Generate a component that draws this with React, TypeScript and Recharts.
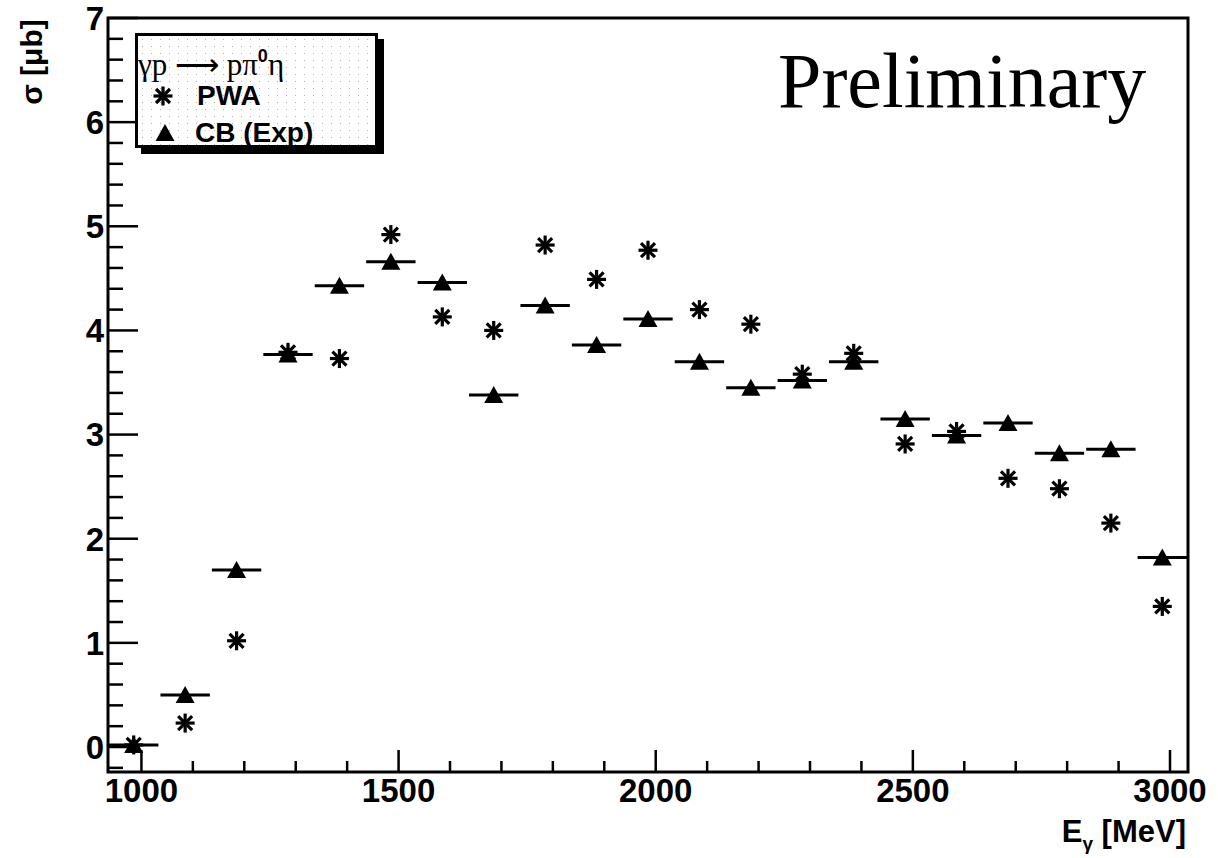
import React from 'react';
import { ScatterChart, Scatter, XAxis, YAxis, ErrorBar, ReferenceArea, Legend } from 'recharts';

// Photon energy bin centres [MeV]
const energies = [985, 1085, 1185, 1285, 1385, 1485, 1585, 1685, 1785, 1885, 1985, 2085, 2185, 2285, 2385, 2485, 2585, 2685, 2785, 2885, 2985];
// PWA cross section [µb]
const pwaValues = [0.02, 0.23, 1.02, 3.79, 3.73, 4.92, 4.13, 4.0, 4.82, 4.49, 4.77, 4.2, 4.06, 3.58, 3.78, 2.91, 3.03, 2.58, 2.48, 2.15, 1.35];
// CB (Exp) cross section [µb]
const cbValues = [0.02, 0.5, 1.7, 3.77, 4.43, 4.66, 4.46, 3.38, 4.24, 3.86, 4.11, 3.7, 3.45, 3.52, 3.7, 3.15, 2.99, 3.11, 2.82, 2.86, 1.82];
// half bin width (horizontal error bars) [MeV]
const cbBinHalfWidth = [48, 48, 48, 48, 48, 48, 48, 48, 48, 48, 48, 48, 48, 48, 48, 48, 48, 48, 48, 48, 48];

const xTicks = [1000, 1100, 1200, 1300, 1400, 1500, 1600, 1700, 1800, 1900, 2000, 2100, 2200, 2300, 2400, 2500, 2600, 2700, 2800, 2900, 3000];
const xMajorTicks = [1000, 1500, 2000, 2500, 3000];
const yTicks = [-0.2, 0, 0.2, 0.4, 0.6, 0.8, 1, 1.2, 1.4, 1.6, 1.8, 2, 2.2, 2.4, 2.6, 2.8, 3, 3.2, 3.4, 3.6, 3.8, 4, 4.2, 4.4, 4.6, 4.8, 5, 5.2, 5.4, 5.6, 5.8, 6, 6.2, 6.4, 6.6, 6.8, 7];
const yMajorTicks = [0, 1, 2, 3, 4, 5, 6, 7];

const X_DOMAIN: [number, number] = [935, 3035];
const Y_DOMAIN: [number, number] = [-0.24, 7];

const pwaData = energies.map((e, i) => ({ e, v: pwaValues[i] }));
const cbData = energies.map((e, i) => ({ e, v: cbValues[i], xerr: cbBinHalfWidth[i] }));

const SANS = '"Liberation Sans", Arial, Helvetica, sans-serif';
const SERIF = '"Liberation Serif", "Times New Roman", serif';

const isIn = (arr: number[], v: number) => arr.some((m) => Math.abs(m - v) < 1e-6);

const YTick = (props: any) => {
  const { x, y, payload } = props;
  const v = payload.value;
  const major = isIn(yMajorTicks, v);
  return (
    <g>
      <line x1={x} x2={x + (major ? 30 : 15)} y1={y} y2={y} stroke="#000" strokeWidth={2.5} />
      {major && (
        <text x={x - 4} y={y} dy="0.36em" textAnchor="end" fontFamily={SANS} fontWeight="bold" fontSize={33} fill="#000">
          {v}
        </text>
      )}
    </g>
  );
};

const XTick = (props: any) => {
  const { x, y, payload } = props;
  const v = payload.value;
  const major = isIn(xMajorTicks, v);
  return (
    <g>
      <line x1={x} x2={x} y1={y} y2={y - (major ? 22 : 11)} stroke="#000" strokeWidth={2.5} />
      {major && (
        <text x={x} y={y + 30} textAnchor="middle" fontFamily={SANS} fontWeight="bold" fontSize={33} fill="#000">
          {v}
        </text>
      )}
    </g>
  );
};

const Asterisk = (props: any) => {
  const { cx, cy } = props;
  if (cx == null || cy == null) return null;
  const r = 9.5;
  const d = 7;
  return (
    <g stroke="#000" strokeWidth={3.2} strokeLinecap="butt">
      <line x1={cx - r} y1={cy} x2={cx + r} y2={cy} />
      <line x1={cx} y1={cy - r} x2={cx} y2={cy + r} />
      <line x1={cx - d} y1={cy - d} x2={cx + d} y2={cy + d} />
      <line x1={cx - d} y1={cy + d} x2={cx + d} y2={cy - d} />
    </g>
  );
};

const Triangle = (props: any) => {
  const { cx, cy } = props;
  if (cx == null || cy == null) return null;
  return <polygon points={`${cx},${cy - 9} ${cx - 9.5},${cy + 8} ${cx + 9.5},${cy + 8}`} fill="#000" />;
};

const LegendBox = () => (
  <div style={{ position: 'relative', width: 243, height: 115 }}>
    <div
      style={{
        position: 'absolute',
        left: 0,
        top: 0,
        width: 243,
        height: 115,
        boxSizing: 'border-box',
        border: '3px solid #000',
        boxShadow: '6px 6px 0 #000',
        backgroundColor: '#fff',
        backgroundImage: 'radial-gradient(rgba(0,0,0,0.3) 0.6px, transparent 0.9px)',
        backgroundSize: '9px 7px',
      }}
    />
    <svg width={243} height={115} style={{ position: 'absolute', left: 0, top: 0 }}>
      <text x={3} y={42} fontFamily={SERIF} fontSize={31} fill="#000">
        γp ⟶ pπ<tspan dy={-13} fontSize={18} fontFamily={SANS} fontWeight="bold">0</tspan>
        <tspan dy={13}>η</tspan>
      </text>
      <Asterisk cx={28} cy={63} />
      <text x={62} y={72} fontFamily={SANS} fontWeight="bold" fontSize={28} fill="#000">PWA</text>
      <Triangle cx={30} cy={100} />
      <text x={60} y={109} fontFamily={SANS} fontWeight="bold" fontSize={28} fill="#000">CB (Exp)</text>
    </svg>
  </div>
);

const YLabel = (props: any) => {
  const vb = props.viewBox || { x: 0, y: 18 };
  const cx = vb.x + 31;
  const cy = vb.y + 44;
  return (
    <text x={cx} y={cy} transform={`rotate(-90, ${cx}, ${cy})`} textAnchor="middle" dy="0.36em" fontFamily={SANS} fontWeight="bold" fontSize={30} fill="#000">
      σ [μb]
    </text>
  );
};

const XLabel = (props: any) => {
  const vb = props.viewBox || { x: 108, y: 772, width: 1080 };
  return (
    <text x={vb.x + vb.width - 2} y={vb.y + 70} textAnchor="end" fontFamily={SANS} fontWeight="bold" fontSize={31} fill="#000">
      E<tspan dy={8} fontSize={19}>γ</tspan>
      <tspan dy={-8}> [MeV]</tspan>
    </text>
  );
};

export default function App() {
  return (
    <div style={{ position: 'absolute', left: 0, top: 0, width: 1218, height: 858, background: '#fff' }}>
      <ScatterChart width={1218} height={858} margin={{ top: 18, right: 30, left: 0, bottom: 0 }}>
        <XAxis
          type="number"
          dataKey="e"
          domain={X_DOMAIN}
          allowDataOverflow
          ticks={xTicks}
          interval={0}
          tick={<XTick />}
          tickSize={0}
          tickMargin={0}
          tickLine={false}
          axisLine={false}
          height={86}
          label={{ content: <XLabel /> }}
        />
        <YAxis
          type="number"
          dataKey="v"
          domain={Y_DOMAIN}
          allowDataOverflow
          ticks={yTicks}
          interval={0}
          tick={<YTick />}
          tickSize={0}
          tickMargin={0}
          tickLine={false}
          axisLine={false}
          width={108}
          label={{ content: <YLabel /> }}
        />
        <ReferenceArea x1={X_DOMAIN[0]} x2={X_DOMAIN[1]} y1={Y_DOMAIN[0]} y2={Y_DOMAIN[1]} fill="none" stroke="#000" strokeWidth={3} ifOverflow="visible" />
        <Scatter name="PWA" data={pwaData} shape={<Asterisk />} isAnimationActive={false} />
        <Scatter name="CB (Exp)" data={cbData} shape={<Triangle />} isAnimationActive={false}>
          <ErrorBar dataKey="xerr" direction="x" width={0} stroke="#000" strokeWidth={3} isAnimationActive={false} />
        </Scatter>
        <Legend
          layout="vertical"
          align="center"
          verticalAlign="middle"
          wrapperStyle={{ position: 'absolute', left: 135, top: 33, width: 243, height: 115, bottom: 'auto', right: 'auto' }}
          content={() => <LegendBox />}
        />
      </ScatterChart>
      <div
        style={{
          position: 'absolute',
          left: 778,
          top: 42,
          fontFamily: SERIF,
          fontSize: 78,
          lineHeight: '78px',
          color: '#000',
          whiteSpace: 'nowrap',
        }}
      >
        Preliminary
      </div>
    </div>
  );
}
